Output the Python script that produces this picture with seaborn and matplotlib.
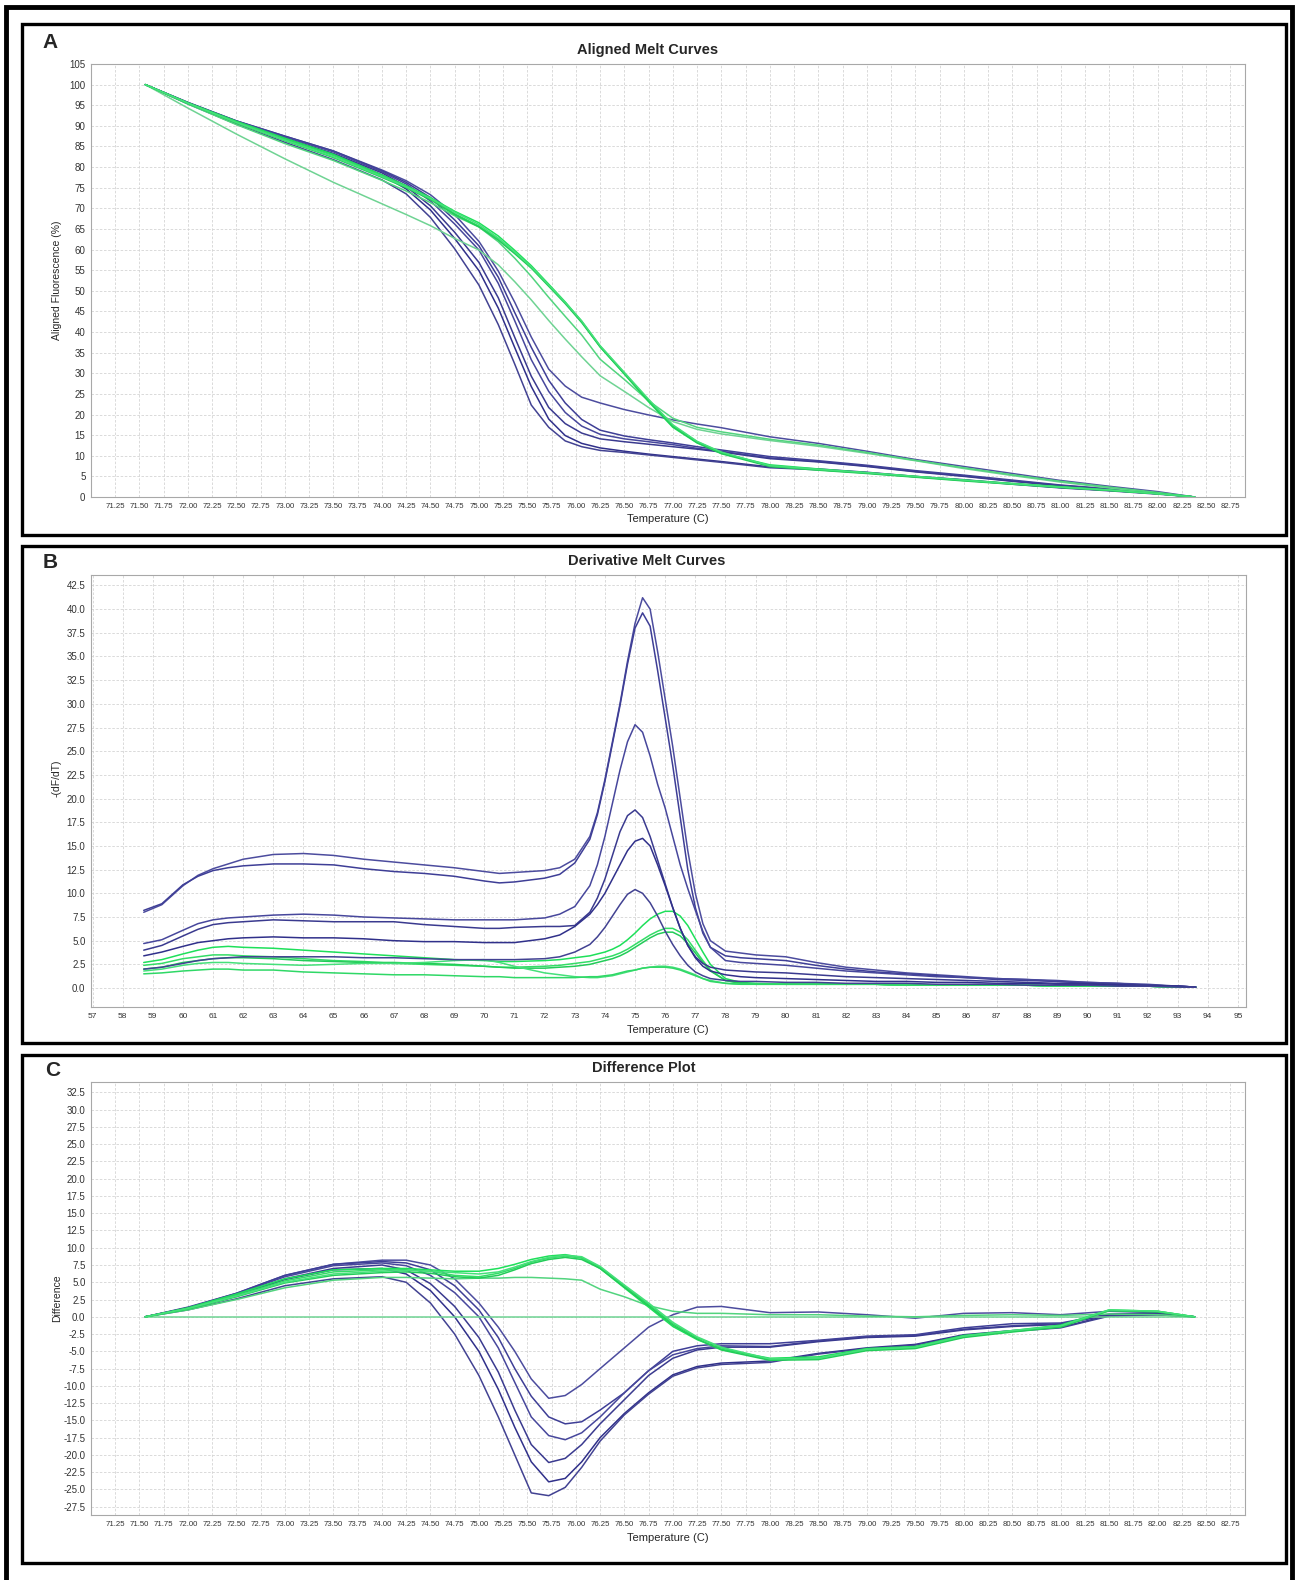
import numpy as np
import pandas as pd
import seaborn as sns
import matplotlib.pyplot as plt
from matplotlib.patches import Rectangle

sns.set_theme(style="white")
plt.rcParams['font.family'] = ['Liberation Sans', 'DejaVu Sans']

# ---------------- data ----------------
# Panels A and C share one temperature grid
temp_ac = [71.56, 72.0, 72.5, 73.0, 73.5, 74.0, 74.25, 74.5, 74.75, 75.0, 75.2, 75.37,
           75.54, 75.72, 75.89, 76.06, 76.25, 76.5, 76.75, 77.0, 77.25, 77.5, 78.0, 78.5,
           79.0, 79.5, 80.0, 80.5, 81.0, 81.5, 82.0, 82.38]

# A: aligned fluorescence (%)
a_ref = [100, 94.3, 88.0, 82.0, 76.3, 71.1, 68.5, 65.8, 62.7, 59.9, 56.3, 52.2, 47.8, 42.8, 38.3, 34.0,
         29.4, 25.6, 21.7, 18.3, 16.4, 15.3, 13.7, 12.3, 10.6, 8.8, 6.9, 5.2, 3.6, 2.2, 0.9, 0]
a_plateau = [100, 95.3, 90.3, 85.7, 81.6, 76.8, 74.2, 71.4, 68.2, 65.5, 61.9, 57.9, 53.5, 48.4, 43.8, 39.3,
             33.4, 28.5, 23.3, 19.1, 16.9, 15.8, 14.0, 12.6, 10.8, 8.9, 7.1, 5.4, 3.8, 2.4, 1.1, 0]
a_g1 = [100, 95.6, 91.1, 87.0, 83.1, 78.1, 75.5, 72.6, 69.3, 66.5, 63.3, 59.8, 56.1, 51.6, 47.3, 42.6,
        36.4, 29.8, 23.1, 16.9, 13.1, 10.6, 7.8, 6.8, 5.9, 5.0, 4.1, 3.3, 2.5, 1.7, 0.8, 0]
a_g2 = [100, 95.5, 90.9, 86.7, 82.8, 77.9, 75.3, 72.4, 68.7, 65.7, 62.6, 59.2, 55.7, 51.3, 47.1, 42.5,
        36.6, 30.1, 23.5, 17.3, 13.4, 10.8, 7.5, 6.6, 5.8, 4.9, 4.0, 3.2, 2.4, 1.6, 0.8, 0]
a_g3 = [100, 95.4, 90.7, 86.4, 82.3, 77.5, 75.0, 72.1, 68.5, 65.5, 62.3, 59.0, 55.5, 51.1, 46.9, 42.3,
        36.4, 29.9, 23.3, 17.1, 13.2, 10.5, 7.4, 6.5, 5.7, 4.8, 3.9, 3.1, 2.3, 1.6, 0.8, 0]
a_g4 = [100, 95.5, 90.8, 86.5, 82.5, 77.7, 75.2, 72.4, 69.1, 66.1, 62.8, 59.4, 55.8, 51.4, 47.2, 42.7,
        36.7, 30.2, 23.7, 17.5, 13.5, 10.9, 7.6, 6.7, 5.9, 5.0, 4.1, 3.2, 2.4, 1.7, 0.8, 0]
a_b1 = [100, 95.6, 91.2, 87.5, 83.9, 79.3, 76.7, 73.3, 68.5, 62.0, 54.8, 47.2, 38.8, 31.0, 26.9, 24.2,
        22.8, 21.2, 19.9, 18.7, 17.7, 16.8, 14.6, 13.0, 11.1, 9.1, 7.4, 5.7, 4.0, 2.6, 1.3, 0]
a_b2 = [100, 95.7, 91.2, 87.5, 83.9, 79.1, 76.3, 72.6, 67.2, 60.9, 53.3, 44.7, 36.3, 28.3, 22.8, 18.8,
        16.2, 14.8, 13.9, 13.1, 12.2, 11.4, 9.8, 8.8, 7.7, 6.4, 5.3, 4.1, 2.9, 2.0, 1.0, 0]
a_b3 = [100, 95.6, 91.1, 87.3, 83.7, 78.9, 75.9, 71.8, 66.2, 59.9, 51.8, 42.7, 33.3, 25.6, 20.5, 17.2,
        15.2, 14.1, 13.4, 12.7, 11.8, 11.1, 9.5, 8.6, 7.5, 6.2, 5.1, 3.9, 2.8, 1.9, 0.9, 0]
a_b4 = [100, 95.5, 90.9, 87.0, 83.3, 78.6, 75.3, 70.6, 64.2, 56.9, 48.3, 38.7, 29.3, 21.7, 17.8, 15.5,
        14.1, 13.4, 12.8, 12.2, 11.6, 10.9, 9.3, 8.5, 7.4, 6.1, 5.0, 3.8, 2.7, 1.8, 0.9, 0]
a_b5 = [100, 95.5, 90.8, 86.9, 83.1, 78.1, 74.7, 69.6, 62.7, 54.9, 45.8, 36.2, 26.8, 18.9, 14.9, 13.0,
        11.9, 11.1, 10.4, 9.8, 9.2, 8.6, 7.3, 6.8, 6.0, 5.0, 4.2, 3.2, 2.3, 1.6, 0.8, 0]
a_b6 = [100, 95.3, 90.4, 86.0, 81.8, 76.9, 73.5, 67.8, 60.2, 51.4, 41.8, 32.2, 22.3, 16.9, 13.6, 12.2,
        11.3, 10.8, 10.2, 9.6, 9.0, 8.4, 7.1, 6.6, 5.9, 4.9, 4.1, 3.1, 2.2, 1.5, 0.7, 0]

# C: difference to the reference curve
c_ref = [0, 0, 0, 0, 0, 0, 0, 0, 0, 0, 0, 0, 0, 0, 0, 0,
         0, 0, 0, 0, 0, 0, 0, 0, 0, 0, 0, 0, 0, 0, 0, 0]
c_plateau = [0, 1.0, 2.5, 4.2, 5.3, 5.7, 5.7, 5.6, 5.5, 5.6, 5.6, 5.7, 5.7, 5.6, 5.5, 5.3,
             4.0, 2.9, 1.6, 0.8, 0.5, 0.5, 0.3, 0.3, 0.1, 0.0, 0.2, 0.3, 0.2, 0.4, 0.3, 0]
c_g1 = [0, 1.3, 3.3, 5.5, 6.8, 7.0, 7.0, 6.8, 6.6, 6.6, 7.0, 7.6, 8.3, 8.8, 9.0, 8.6,
        7.0, 4.2, 1.4, -1.4, -3.3, -4.7, -6.0, -5.8, -4.6, -4.3, -2.7, -2.0, -1.2, 1.0, 0.8, 0]
c_g2 = [0, 1.2, 3.1, 5.2, 6.5, 6.8, 6.8, 6.6, 6.0, 5.8, 6.3, 7.0, 7.9, 8.5, 8.8, 8.5,
        7.2, 4.5, 1.8, -1.0, -3.0, -4.5, -6.2, -6.0, -4.8, -4.5, -2.9, -2.1, -1.4, 0.9, 0.8, 0]
c_g3 = [0, 1.1, 2.9, 4.9, 6.0, 6.4, 6.5, 6.3, 5.8, 5.6, 6.0, 6.8, 7.7, 8.3, 8.6, 8.3,
        7.0, 4.3, 1.6, -1.2, -3.2, -4.8, -6.3, -6.2, -4.9, -4.6, -3.0, -2.2, -1.5, 0.9, 0.7, 0]
c_g4 = [0, 1.2, 3.0, 5.0, 6.2, 6.6, 6.7, 6.6, 6.4, 6.2, 6.5, 7.2, 8.0, 8.6, 8.9, 8.7,
        7.3, 4.6, 2.0, -0.8, -2.9, -4.4, -6.1, -6.0, -4.7, -4.4, -2.8, -2.0, -1.3, 1.0, 0.8, 0]
c_b1 = [0, 1.3, 3.4, 6.0, 7.6, 8.2, 8.2, 7.5, 5.5, 2.0, -1.5, -5.0, -9.0, -11.8, -11.4, -9.8,
        -7.5, -4.5, -1.5, 0.3, 1.4, 1.5, 0.6, 0.7, 0.3, -0.2, 0.5, 0.6, 0.3, 0.8, 0.6, 0]
c_b2 = [0, 1.4, 3.4, 6.0, 7.6, 8.0, 7.8, 6.8, 4.5, 1.0, -3.0, -7.5, -11.5, -14.5, -15.5, -15.2,
        -13.5, -11.0, -7.8, -5.0, -4.2, -3.9, -3.9, -3.4, -2.8, -2.6, -1.6, -1.0, -0.9, 0.4, 0.5, 0]
c_b3 = [0, 1.3, 3.3, 5.8, 7.4, 7.8, 7.4, 6.0, 3.5, 0.0, -4.5, -9.5, -14.5, -17.2, -17.8, -16.8,
        -14.5, -11.0, -7.8, -5.5, -4.6, -4.2, -4.3, -3.5, -2.9, -2.7, -1.8, -1.3, -1.0, 0.3, 0.4, 0]
c_b4 = [0, 1.2, 3.1, 5.5, 7.0, 7.5, 6.8, 4.8, 1.5, -3.0, -8.0, -13.5, -18.5, -21.1, -20.5, -18.5,
        -15.5, -12.0, -8.5, -6.0, -4.8, -4.4, -4.4, -3.6, -3.0, -2.8, -1.9, -1.4, -1.1, 0.3, 0.4, 0]
c_b5 = [0, 1.2, 3.0, 5.4, 6.8, 7.0, 6.2, 3.8, 0.0, -5.0, -10.5, -16.0, -21.0, -23.9, -23.4, -21.0,
        -17.5, -14.0, -11.0, -8.4, -7.2, -6.7, -6.4, -5.3, -4.5, -4.0, -2.6, -2.0, -1.5, 0.2, 0.3, 0]
c_b6 = [0, 1.0, 2.6, 4.5, 5.5, 5.8, 5.0, 2.0, -2.5, -8.5, -14.5, -20.0, -25.5, -25.9, -24.7, -21.8,
        -18.0, -14.2, -11.2, -8.6, -7.4, -6.9, -6.6, -5.4, -4.6, -4.1, -2.7, -2.1, -1.6, 0.1, 0.3, 0]

# B: derivative -(dF/dT)
temp_b = [58.7, 59.3, 60.0, 60.5, 61.0, 61.5, 62.0, 63.0, 64.0, 65.0, 66.0, 67.0, 68.0, 69.0,
          70.0, 70.5, 71.0, 72.0, 72.5, 73.0, 73.5, 73.75, 74.0, 74.25, 74.5, 74.75, 75.0,
          75.25, 75.5, 75.75, 76.0, 76.25, 76.5, 76.75, 77.0, 77.25, 77.5, 78.0, 78.5, 79.0,
          80.0, 81.0, 82.0, 83.0, 84.0, 85.0, 86.0, 87.0, 88.0, 89.0, 90.0, 91.0, 92.0, 93.0, 93.6]
b_b1 = [8.0, 8.8, 10.8, 11.9, 12.6, 13.1, 13.6, 14.1, 14.2, 14.0, 13.6, 13.3, 13.0, 12.7,
        12.3, 12.1, 12.2, 12.4, 12.7, 13.6, 16.0, 18.5, 22.0, 26.0, 30.0, 34.5, 38.5,
        41.2, 40.0, 35.5, 30.5, 25.5, 20.0, 14.5, 10.0, 6.8, 5.0, 3.9, 3.7, 3.5,
        3.3, 2.7, 2.2, 1.9, 1.6, 1.4, 1.2, 1.0, 0.9, 0.7, 0.6, 0.5, 0.4, 0.2, 0.1]
b_b2 = [8.2, 8.9, 10.9, 11.8, 12.4, 12.7, 12.9, 13.1, 13.1, 13.0, 12.6, 12.3, 12.1, 11.8,
        11.3, 11.1, 11.2, 11.6, 12.0, 13.2, 15.7, 18.3, 21.8, 25.8, 29.8, 34.2, 38.0,
        39.6, 38.2, 33.5, 28.5, 23.5, 18.0, 12.5, 8.5, 5.8, 4.3, 3.4, 3.2, 3.1,
        2.9, 2.4, 2.0, 1.7, 1.5, 1.3, 1.1, 0.9, 0.8, 0.7, 0.5, 0.4, 0.3, 0.2, 0.1]
b_b3 = [4.7, 5.1, 6.1, 6.8, 7.2, 7.4, 7.5, 7.7, 7.8, 7.7, 7.5, 7.4, 7.3, 7.2,
        7.2, 7.2, 7.2, 7.4, 7.8, 8.6, 10.8, 13.0, 16.0, 19.5, 23.0, 26.0, 27.8,
        27.0, 24.5, 21.5, 19.0, 16.0, 13.0, 10.5, 8.2, 6.0, 4.3, 2.9, 2.7, 2.6,
        2.4, 2.1, 1.8, 1.6, 1.4, 1.2, 1.1, 1.0, 0.9, 0.8, 0.6, 0.5, 0.3, 0.2, 0.1]
b_b4 = [4.0, 4.5, 5.5, 6.2, 6.7, 6.9, 7.0, 7.2, 7.1, 7.0, 7.0, 7.0, 6.7, 6.5,
        6.3, 6.3, 6.4, 6.5, 6.5, 6.6, 8.0, 9.5, 11.5, 14.0, 16.5, 18.2, 18.8,
        18.0, 16.0, 13.5, 11.0, 8.5, 6.3, 4.5, 3.3, 2.6, 2.2, 1.9, 1.8, 1.7,
        1.6, 1.4, 1.2, 1.1, 1.0, 0.9, 0.8, 0.7, 0.6, 0.5, 0.5, 0.4, 0.3, 0.2, 0.1]
b_b5 = [3.4, 3.8, 4.4, 4.8, 5.0, 5.2, 5.3, 5.4, 5.3, 5.3, 5.2, 5.0, 4.9, 4.9,
        4.8, 4.8, 4.8, 5.2, 5.6, 6.5, 7.8, 8.8, 10.0, 11.5, 13.0, 14.5, 15.5,
        15.8, 15.0, 13.0, 10.8, 8.5, 6.3, 4.5, 3.2, 2.3, 1.8, 1.4, 1.2, 1.1,
        1.0, 0.9, 0.8, 0.7, 0.7, 0.6, 0.6, 0.5, 0.5, 0.4, 0.4, 0.3, 0.2, 0.2, 0.1]
b_b6 = [2.0, 2.2, 2.6, 2.9, 3.1, 3.2, 3.3, 3.3, 3.3, 3.3, 3.2, 3.2, 3.1, 3.0,
        3.0, 3.0, 3.0, 3.1, 3.3, 3.8, 4.6, 5.4, 6.4, 7.6, 8.8, 9.9, 10.4,
        10.0, 9.0, 7.6, 6.0, 4.6, 3.4, 2.4, 1.7, 1.3, 1.0, 0.8, 0.7, 0.7,
        0.6, 0.6, 0.5, 0.5, 0.5, 0.4, 0.4, 0.4, 0.3, 0.3, 0.3, 0.2, 0.2, 0.1, 0.1]
green_tail_b = [0.4, 0.4, 0.4, 0.4, 0.3, 0.3, 0.3, 0.3, 0.3, 0.2, 0.2, 0.2, 0.2, 0.1, 0.1]
b_g1 = [2.7, 3.0, 3.6, 4.0, 4.3, 4.4, 4.3, 4.2, 4.0, 3.8, 3.6, 3.4, 3.2, 3.0,
        2.9, 2.8, 2.8, 2.9, 3.0, 3.2, 3.4, 3.6, 3.8, 4.1, 4.5, 5.1, 5.8,
        6.6, 7.3, 7.8, 8.1, 8.1, 7.6, 6.6, 5.2, 3.8, 2.5, 1.0, 0.6, 0.5] + green_tail_b
b_g2 = [2.4, 2.6, 3.1, 3.3, 3.5, 3.5, 3.4, 3.3, 3.1, 2.9, 2.8, 2.6, 2.5, 2.4,
        2.3, 2.2, 2.2, 2.3, 2.4, 2.6, 2.8, 3.0, 3.2, 3.4, 3.7, 4.1, 4.6,
        5.1, 5.6, 6.0, 6.3, 6.3, 5.9, 5.1, 4.0, 2.9, 1.9, 0.8, 0.5, 0.4] + green_tail_b
b_g3 = [2.0, 2.2, 2.7, 2.9, 3.1, 3.2, 3.2, 3.1, 2.9, 2.8, 2.7, 2.7, 2.6, 2.5,
        2.3, 2.2, 2.1, 2.1, 2.2, 2.3, 2.5, 2.7, 2.9, 3.1, 3.4, 3.8, 4.3,
        4.8, 5.3, 5.7, 5.9, 5.9, 5.5, 4.7, 3.7, 2.7, 1.8, 0.8, 0.5, 0.4] + green_tail_b
b_g4 = [1.8, 2.0, 2.4, 2.6, 2.7, 2.7, 2.6, 2.5, 2.4, 2.5, 2.6, 2.6, 2.7, 2.9,
        3.0, 2.7, 2.3, 1.6, 1.4, 1.2, 1.1, 1.1, 1.2, 1.3, 1.5, 1.7, 1.9,
        2.1, 2.2, 2.3, 2.3, 2.2, 2.0, 1.7, 1.4, 1.0, 0.8, 0.5, 0.4, 0.4] + green_tail_b
b_g5 = [1.5, 1.6, 1.8, 1.9, 2.0, 2.0, 1.9, 1.9, 1.7, 1.6, 1.5, 1.4, 1.4, 1.3,
        1.2, 1.2, 1.1, 1.1, 1.1, 1.1, 1.2, 1.2, 1.3, 1.4, 1.6, 1.8, 1.9,
        2.1, 2.2, 2.2, 2.2, 2.1, 1.9, 1.6, 1.3, 1.0, 0.7, 0.5, 0.4, 0.4] + green_tail_b

# ---------------- styles ----------------
colors = {
    'ref': '#6fd393', 'plateau': '#52d47e',
    'g1': '#1ee05a', 'g2': '#33dd66', 'g3': '#22cc58', 'g4': '#45e07a', 'g5': '#2fd866',
    'b1': '#4c4c9e', 'b2': '#3e3e96', 'b3': '#47479c', 'b4': '#3a3a8f', 'b5': '#30308a', 'b6': '#424292',
}

W, H = 1298, 1580
fig = plt.figure(figsize=(W / 100, H / 100), dpi=100)


def px_axes(left, top, right, bottom):
    return fig.add_axes([left / W, 1 - bottom / H, (right - left) / W, (bottom - top) / H])


def long_frame(temp, series):
    parts = [pd.DataFrame({'temp': temp, 'value': vals, 'curve': name}) for name, vals in series]
    return pd.concat(parts, ignore_index=True)


def style_axes(ax, xticks, xfmt, yticks, yfmt, xsize):
    ax.set_xticks(xticks)
    ax.set_xticklabels([xfmt % t for t in xticks], fontsize=xsize, color='#333333')
    ax.set_yticks(yticks)
    ax.set_yticklabels([yfmt % t for t in yticks], fontsize=7, color='#333333')
    ax.grid(True, color='#d4d4d4', linestyle=(0, (3, 2)), linewidth=0.6)
    ax.set_axisbelow(True)
    for s in ax.spines.values():
        s.set_color('#a8a8a8')
        s.set_linewidth(0.8)
    ax.tick_params(axis='both', length=2, width=0.6, color='#999999', pad=2)
    ax.set_xlabel('')
    ax.set_ylabel('')


def draw(ax, df, order):
    sns.lineplot(data=df, x='temp', y='value', hue='curve', hue_order=order, palette=colors,
                 estimator=None, sort=False, legend=False, linewidth=1.1, ax=ax)


ticks_ac = np.arange(71.25, 82.76, 0.25)

# ---- Panel A ----
axA = px_axes(91, 64, 1245, 497)
dfA = long_frame(temp_ac, [('b1', a_b1), ('b2', a_b2), ('b3', a_b3), ('b4', a_b4), ('b5', a_b5),
                           ('b6', a_b6), ('ref', a_ref), ('plateau', a_plateau),
                           ('g1', a_g1), ('g2', a_g2), ('g3', a_g3), ('g4', a_g4)])
draw(axA, dfA, ['b1', 'b2', 'b3', 'b4', 'b5', 'b6', 'ref', 'plateau', 'g1', 'g2', 'g3', 'g4'])
axA.set_xlim(71.0, 82.9)
axA.set_ylim(0, 105)
style_axes(axA, ticks_ac, '%.2f', np.arange(0, 106, 5), '%d', 5.6)

# ---- Panel B ----
axB = px_axes(91, 575, 1246, 1007)
dfB = long_frame(temp_b, [('g1', b_g1), ('g2', b_g2), ('g3', b_g3), ('g4', b_g4), ('g5', b_g5),
                          ('b1', b_b1), ('b2', b_b2), ('b3', b_b3), ('b4', b_b4), ('b5', b_b5),
                          ('b6', b_b6)])
draw(axB, dfB, ['g1', 'g2', 'g3', 'g4', 'g5', 'b1', 'b2', 'b3', 'b4', 'b5', 'b6'])
axB.set_xlim(56.95, 95.27)
axB.set_ylim(-2.0, 43.6)
style_axes(axB, np.arange(57, 96, 1), '%d', np.arange(0, 42.6, 2.5), '%.1f', 6)

# ---- Panel C ----
axC = px_axes(91, 1082, 1245, 1515)
dfC = long_frame(temp_ac, [('b1', c_b1), ('b2', c_b2), ('b3', c_b3), ('b4', c_b4), ('b5', c_b5),
                           ('b6', c_b6), ('ref', c_ref), ('plateau', c_plateau),
                           ('g1', c_g1), ('g2', c_g2), ('g3', c_g3), ('g4', c_g4)])
draw(axC, dfC, ['b1', 'b2', 'b3', 'b4', 'b5', 'b6', 'ref', 'plateau', 'g1', 'g2', 'g3', 'g4'])
axC.set_xlim(71.0, 82.9)
axC.set_ylim(-28.7, 34.0)
style_axes(axC, ticks_ac, '%.2f', np.arange(-27.5, 32.6, 2.5), '%.1f', 5.6)


# ---- texts ----
def ftext(x, y, s, **kw):
    fig.text(x / W, 1 - y / H, s, ha='center', va='center', **kw)


ftext(648, 50, 'Aligned Melt Curves', fontsize=10.5, fontweight='bold')
ftext(647, 561, 'Derivative Melt Curves', fontsize=10.5, fontweight='bold')
ftext(644, 1068, 'Difference Plot', fontsize=10.5, fontweight='bold')
for y in (519, 1030, 1538):
    ftext(668, y, 'Temperature (C)', fontsize=8)
ftext(57, 280, 'Aligned Fluorescence (%)', fontsize=7.5, rotation=90)
ftext(57, 778, '-(dF/dT)', fontsize=7.5, rotation=90)
ftext(57, 1298, 'Difference', fontsize=7.5, rotation=90)
ftext(50, 42, 'A', fontsize=15, fontweight='bold')
ftext(50, 562, 'B', fontsize=15, fontweight='bold')
ftext(53, 1070, 'C', fontsize=15, fontweight='bold')


# ---- frames ----
def frame(x0, y0, x1, y1, lw):
    fig.add_artist(Rectangle((x0 / W, 1 - y1 / H), (x1 - x0) / W, (y1 - y0) / H,
                             transform=fig.transFigure, fill=False, edgecolor='black', linewidth=lw))


frame(6, 7, 1292, 1590, 3.5)
frame(22, 24, 1286, 535, 2.4)
frame(22, 546, 1286, 1043, 2.4)
frame(22, 1055, 1286, 1563, 2.4)

fig.savefig('out.png', dpi=100, facecolor='white')
